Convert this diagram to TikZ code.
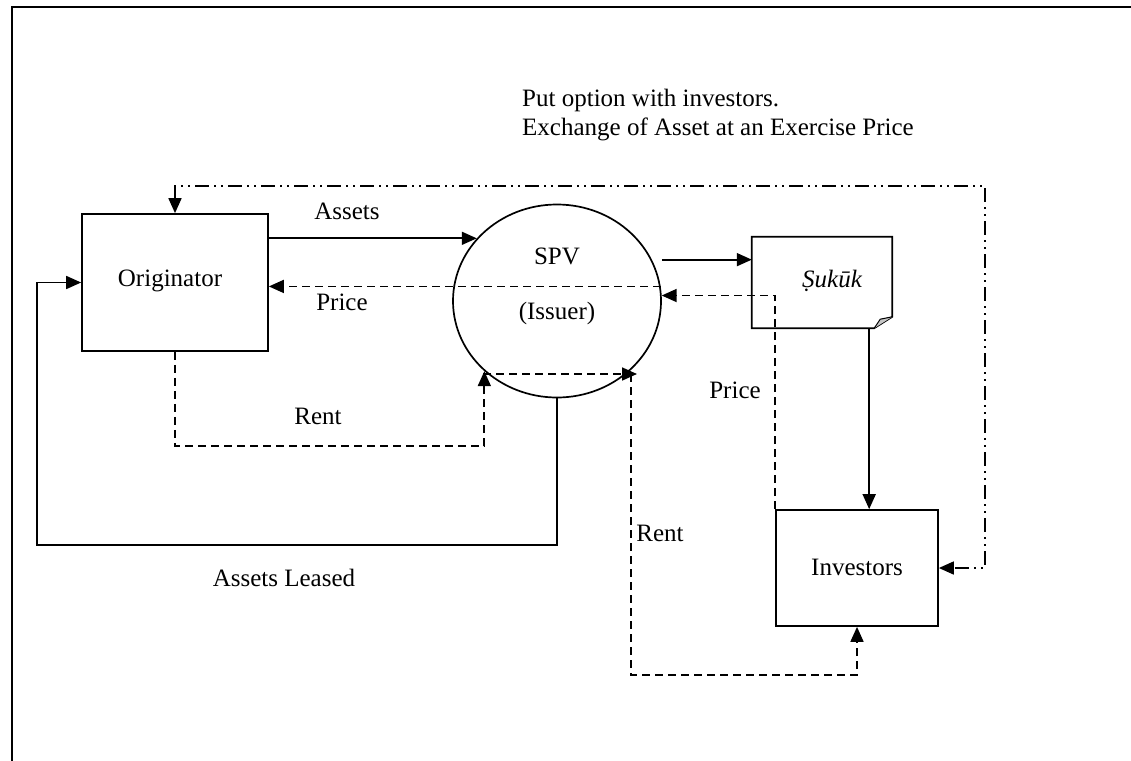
\documentclass[tikz,border=0pt]{standalone}
\usepackage{fontspec}
\setmainfont{Liberation Serif}
\usetikzlibrary{arrows.meta,shapes.geometric,calc}
\tikzset{
  base/.style={line width=1.7pt},
  box/.style={base, draw, rectangle, inner sep=0pt},
  lbl/.style={inner sep=0pt, anchor=center},
  tip/.style={-{Triangle[length=15pt,width=13pt]}},
  tips/.style={{Triangle[length=15pt,width=13pt]}-{Triangle[length=15pt,width=13pt]}},
  dsh/.style={dash pattern=on 8pt off 5pt},
  dshdot/.style={dash pattern=on 14pt off 5pt on 2pt off 5pt on 2pt off 5pt},
}
\begin{document}
\begin{tikzpicture}[x=1pt,y=-1pt,font=\fontsize{25pt}{29pt}\selectfont]
\useasboundingbox (0,0) rectangle (1131,760);

% outer frame (runs off the right and bottom edges)
\draw[line width=2pt] (12,762) -- (12,7) -- (1133,7);

% parties
\node[box, minimum width=186pt, minimum height=137pt] (orig) at (175,282.5) {};
\node[lbl] (origtext) at (170,281) {Originator};

\node[base, draw, ellipse, minimum width=208pt, minimum height=193pt, inner sep=0pt] (spv) at (557,301) {};
\node[lbl] (spvtext) at (557,256) {SPV};
\node[lbl] (issuer) at (557,313) {(Issuer)};

\node[box, minimum width=162pt, minimum height=116pt] (inv) at (857,568) {};
\node[lbl] (invtext) at (857,567) {Investors};

% certificate with a folded corner
\node[minimum width=140pt, minimum height=91pt, inner sep=0pt] (suk) at (822,282.5) {};
\draw[base] (suk.north west) -- (suk.north east) -- ($(suk.north east)+(0,80)$)
  -- ($(suk.south east)+(-18,0)$) -- (suk.south west) -- cycle;
\filldraw[line width=1pt, fill=gray!45] ($(suk.south east)+(-18,0)$) -- ($(suk.south east)+(-12,-9)$)
  -- ($(suk.north east)+(0,80)$);
\node[lbl] (suktext) at (832,281) {\itshape Ṣukūk};

% helper points
\coordinate (sukin) at ($(suk.north west)!0.25!(suk.south west)$);
\coordinate (sukout) at ($(suk.south west)!0.836!(suk.south east)$);
\coordinate (leasecorner) at (37,545);
\coordinate (rentl) at (483,374);
\coordinate (rentr) at (637,374);
\coordinate (renttop) at (631,374);
\coordinate (rentbot) at (631,675);
\coordinate (putcorner) at (985,186);

% assets sold to the SPV
\draw[base, tip] (orig.east |- spv.142) -- (spv.142);
\node[lbl] (assets) at (347,211) {Assets};

% price paid to the originator
\draw[base, dsh, tip] (spv.8) -- (orig.east |- spv.8);
\node[lbl] (price1) at (342,302) {Price};

% SPV issues the certificates
\draw[base, tip] (spv.east |- sukin) -- (sukin);
\draw[base, tip] (sukout) -- (sukout |- inv.north);

% price paid by the investors
\draw[base, dsh, tip] (inv.north west) |- (spv.3);
\node[lbl] (price2) at (735,390) {Price};

% rent from the originator
\draw[base, dsh, tip] (orig.south) -- ++(0,94) -| (spv.224);
\node[lbl] (rent1) at (318,416) {Rent};

% rent passed on to the investors
\draw[base, dsh, tip] (rentl) -- (rentr);
\draw[base, dsh, tip] (renttop) -- (rentbot) -| (inv.south);
\node[lbl] (rent2) at (660,533) {Rent};

% assets leased back
\draw[base, tip] (spv.south) |- (leasecorner) |- (orig.west);
\node[lbl] (leased) at (284,578) {Assets Leased};

% put option
\draw[base, dshdot, tips] (orig.north) |- (putcorner) |- (inv.east);
\node[anchor=west, inner sep=0pt, align=left] (put) at (522,115)
  {Put option with investors.\\Exchange of Asset at an Exercise Price};
\end{tikzpicture}
\end{document}
